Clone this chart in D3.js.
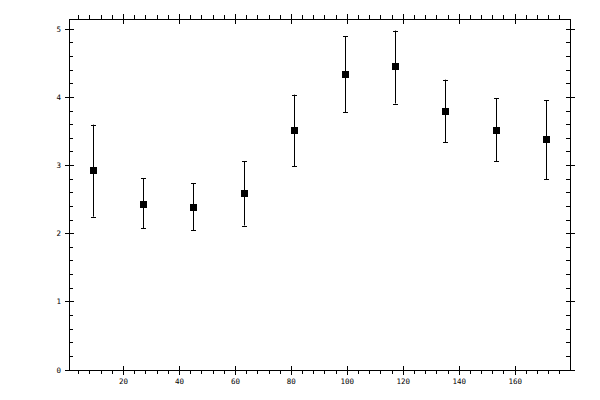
<!DOCTYPE html>
<html>
<head>
<meta charset="utf-8">
<script src="https://cdn.jsdelivr.net/npm/d3@7"></script>
<style>
  body { margin: 0; background: #fff; }
  text { font-family: "DejaVu Sans Mono", monospace; font-size: 7.5px; fill: #000; }
</style>
</head>
<body>
<div id="chart"></div>
<script>
const width = 600;
const height = 400;

// data
const xValues = [9, 27, 45, 63, 81, 99, 117, 135, 153, 171];
const yValues = [2.93, 2.44, 2.385, 2.59, 3.52, 4.34, 4.46, 3.80, 3.52, 3.385];
const yUpper = [3.60, 2.81, 2.74, 3.06, 4.04, 4.90, 4.98, 4.26, 3.99, 3.96];
const yLower = [2.25, 2.08, 2.05, 2.12, 2.99, 3.78, 3.91, 3.34, 3.06, 2.80];
const xTicks = [20, 40, 60, 80, 100, 120, 140, 160];
const yTicks = [0, 1, 2, 3, 4, 5];

const margin = {top: 19, right: 30, bottom: 30, left: 69};

const svg = d3.select("#chart").append("svg").attr("width", width).attr("height", height);

const x = d3.scaleLinear().domain([0.5, 179.6]).range([margin.left, width - margin.right]);
const y = d3.scaleLinear().domain([0, 5.15]).range([height - margin.bottom, margin.top]);

const xMinor = d3.range(4, 180, 4).filter(v => v % 20 !== 0);
const yMinor = d3.range(0.2, 5.15, 0.2).filter(v => Math.abs(v - Math.round(v)) > 0.01);

const x0 = margin.left, x1 = width - margin.right;
const y0 = height - margin.bottom, y1 = margin.top;

// frame
svg.append("rect")
    .attr("x", x0).attr("y", y1)
    .attr("width", x1 - x0).attr("height", y0 - y1)
    .attr("fill", "none").attr("stroke", "#000").attr("stroke-width", 1)
    .attr("shape-rendering", "crispEdges");

const ticks = svg.append("g").attr("stroke", "#000").attr("stroke-width", 1)
    .attr("shape-rendering", "crispEdges");

// bottom & top: major ticks cross the axis, minor ticks point outward
xTicks.forEach(v => {
    ticks.append("line").attr("x1", x(v)).attr("x2", x(v)).attr("y1", y0 - 4).attr("y2", y0 + 5);
    ticks.append("line").attr("x1", x(v)).attr("x2", x(v)).attr("y1", y1 - 5).attr("y2", y1 + 5);
});
xMinor.forEach(v => {
    ticks.append("line").attr("x1", x(v)).attr("x2", x(v)).attr("y1", y0).attr("y2", y0 + 4);
    ticks.append("line").attr("x1", x(v)).attr("x2", x(v)).attr("y1", y1 - 4).attr("y2", y1);
});

// left & right: major ticks cross the axis, minor ticks point inward
yTicks.forEach(v => {
    ticks.append("line").attr("x1", x0 - 4).attr("x2", x0 + 5).attr("y1", y(v)).attr("y2", y(v));
    ticks.append("line").attr("x1", x1 - 4).attr("x2", x1 + 5).attr("y1", y(v)).attr("y2", y(v));
});
yMinor.forEach(v => {
    ticks.append("line").attr("x1", x0).attr("x2", x0 + 4).attr("y1", y(v)).attr("y2", y(v));
    ticks.append("line").attr("x1", x1 - 4).attr("x2", x1).attr("y1", y(v)).attr("y2", y(v));
});

// tick labels
svg.append("g").selectAll("text").data(xTicks).join("text")
    .attr("x", d => x(d)).attr("y", y0 + 14)
    .attr("text-anchor", "middle")
    .text(d => d);

svg.append("g").selectAll("text").data(yTicks).join("text")
    .attr("x", x0 - 8).attr("y", d => y(d) + 2.5)
    .attr("text-anchor", "end")
    .text(d => d);

// error bars
const pts = xValues.map((v, i) => ({x: v, y: yValues[i], hi: yUpper[i], lo: yLower[i]}));
const err = svg.append("g").attr("stroke", "#000").attr("stroke-width", 1);
err.selectAll("line.bar").data(pts).join("line").attr("class", "bar")
    .attr("x1", d => Math.round(x(d.x)) + 0.5).attr("x2", d => Math.round(x(d.x)) + 0.5)
    .attr("y1", d => y(d.hi)).attr("y2", d => y(d.lo));
err.selectAll("line.capHi").data(pts).join("line").attr("class", "capHi")
    .attr("x1", d => Math.round(x(d.x)) - 2).attr("x2", d => Math.round(x(d.x)) + 3)
    .attr("y1", d => Math.round(y(d.hi)) + 0.5).attr("y2", d => Math.round(y(d.hi)) + 0.5);
err.selectAll("line.capLo").data(pts).join("line").attr("class", "capLo")
    .attr("x1", d => Math.round(x(d.x)) - 2).attr("x2", d => Math.round(x(d.x)) + 3)
    .attr("y1", d => Math.round(y(d.lo)) + 0.5).attr("y2", d => Math.round(y(d.lo)) + 0.5);

// square markers
svg.append("g").selectAll("rect").data(pts).join("rect")
    .attr("x", d => Math.round(x(d.x)) - 3).attr("y", d => Math.round(y(d.y)) - 3)
    .attr("width", 7).attr("height", 7)
    .attr("fill", "#000");
</script>
</body>
</html>
